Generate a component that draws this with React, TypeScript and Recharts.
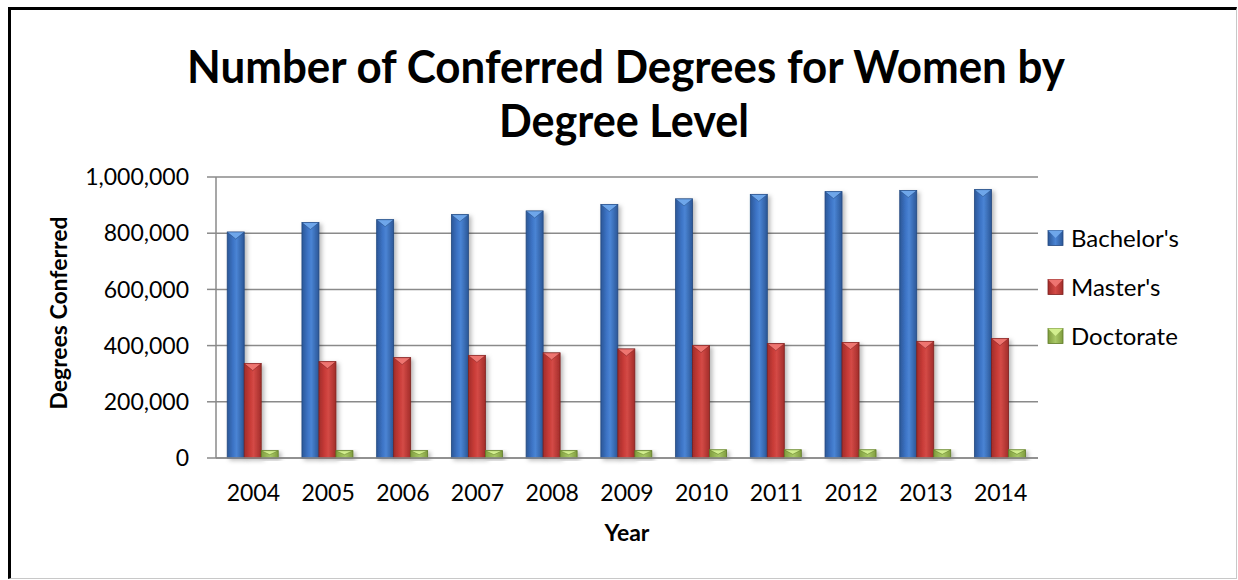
import React from "react";
import { BarChart, Bar, XAxis, YAxis, CartesianGrid } from "recharts";

const years = ["2004", "2005", "2006", "2007", "2008", "2009", "2010", "2011", "2012", "2013", "2014"];
const bachelors = [804000, 838000, 848000, 866000, 879000, 902000, 922000, 938000, 948000, 952000, 955000];
const masters = [336000, 343000, 357000, 365000, 374000, 388000, 400000, 407000, 411000, 415000, 425000];
const doctorate = [26000, 26000, 26000, 26000, 26000, 26000, 29000, 29000, 29000, 29000, 29000];
const yTicks = [0, 200000, 400000, 600000, 800000, 1000000];
const seriesNames = ["Bachelor's", "Master's", "Doctorate"];

const data = years.map((y, i) => ({
  year: y,
  bachelors: bachelors[i],
  masters: masters[i],
  doctorate: doctorate[i],
}));

const W = 1238;
const H = 580;
const PL = 216;
const PR = 1038;
const PT = 177;
const PB = 458;
const YW = 110;
const XH = 40;
const FONT = "Lato, 'Open Sans', sans-serif";

const palettes = [
  { id: "b", edge: "#23487f", dark: "#2b5797", mid: "#3d74c6", light: "#4a84d4", top: "#6ea6ea" },
  { id: "r", edge: "#7d201e", dark: "#a22d2a", mid: "#c93c38", light: "#d44a46", top: "#ee7470" },
  { id: "g", edge: "#5e7a26", dark: "#7f9c3e", mid: "#9bbb59", light: "#a9c866", top: "#d2ee8e" },
];

const makeShape = (c: any) => (p: any) => {
  const { x, y, width: w, height: h } = p;
  if (!h || h <= 0) return <g />;
  const bev = Math.min(7, h * 0.55);
  return (
    <g filter="url(#barShadow)">
      <rect x={x} y={y} width={w} height={h} fill={`url(#grad-${c.id})`} stroke={c.edge} strokeWidth={0.8} />
      <polygon
        points={`${x},${y} ${x + w},${y} ${x + w / 2},${y + bev}`}
        fill={c.top}
        stroke={c.edge}
        strokeWidth={0.5}
      />
    </g>
  );
};

const fmt = (v: number) => v.toLocaleString("en-US");

export default function App() {
  const keys = ["bachelors", "masters", "doctorate"];
  return (
    <div style={{ position: "fixed", left: 0, top: 0, width: W, height: H, background: "#fff", overflow: "hidden" }}>
      <div
        style={{
          position: "absolute",
          left: 8,
          top: 7,
          width: 1229,
          height: 572,
          boxSizing: "border-box",
          borderLeft: "3px solid #000",
          borderTop: "3px solid #000",
          borderRight: "1px solid #c8c8c8",
          borderBottom: "1px solid #c8c8c8",
        }}
      />
      <div style={{ position: "absolute", left: 0, top: 0 }}>
        <BarChart
          width={W}
          height={H}
          data={data}
          margin={{ top: PT, right: W - PR, bottom: H - PB - XH, left: PL - YW }}
          barCategoryGap="15%"
          barGap={0}
        >
          <defs>
            {palettes.map((c) => (
              <linearGradient key={c.id} id={`grad-${c.id}`} x1="0" y1="0" x2="1" y2="0">
                <stop offset="0%" stopColor={c.dark} />
                <stop offset="35%" stopColor={c.mid} />
                <stop offset="55%" stopColor={c.light} />
                <stop offset="100%" stopColor={c.dark} />
              </linearGradient>
            ))}
            <filter id="barShadow" x="-40%" y="-10%" width="200%" height="140%">
              <feDropShadow dx="2.5" dy="2" stdDeviation="2" floodColor="#000" floodOpacity="0.28" />
            </filter>
          </defs>
          <CartesianGrid vertical={false} stroke="#8a8a8a" strokeWidth={1.5} />
          <XAxis
            dataKey="year"
            height={XH}
            axisLine={{ stroke: "#8a8a8a", strokeWidth: 1.5 }}
            tickLine={false}
            tickSize={0}
            tickMargin={27}
            tick={{ fill: "#000", fontSize: 23, fontFamily: FONT }}
            interval={0}
          />
          <YAxis
            width={YW}
            domain={[0, 1000000]}
            ticks={yTicks}
            tickFormatter={fmt}
            axisLine={{ stroke: "#8a8a8a", strokeWidth: 1.5 }}
            tickLine={{ stroke: "#8a8a8a", strokeWidth: 1.5 }}
            tickSize={9}
            tickMargin={18}
            tick={{ fill: "#000", fontSize: 23, fontFamily: FONT }}
            interval={0}
          />
          {keys.map((k, i) => (
            <Bar
              key={k}
              dataKey={k}
              name={seriesNames[i]}
              fill={palettes[i].mid}
              isAnimationActive={false}
              shape={makeShape(palettes[i])}
            />
          ))}
        </BarChart>
      </div>
      <svg
        width={W}
        height={H}
        style={{ position: "absolute", left: 0, top: 0, pointerEvents: "none" }}
      >
        <defs>
          {palettes.map((c) => (
            <linearGradient key={c.id} id={`lg-${c.id}`} x1="0" y1="0" x2="1" y2="0">
              <stop offset="0%" stopColor={c.dark} />
              <stop offset="50%" stopColor={c.light} />
              <stop offset="100%" stopColor={c.dark} />
            </linearGradient>
          ))}
        </defs>
        <text
          x={626}
          y={83}
          textAnchor="middle"
          fontFamily={FONT}
          fontWeight="bold"
          fontSize={45}
          fill="#000"
          textLength={878}
          lengthAdjust="spacingAndGlyphs"
        >
          Number of Conferred Degrees for Women by
        </text>
        <text
          x={624}
          y={137}
          textAnchor="middle"
          fontFamily={FONT}
          fontWeight="bold"
          fontSize={45}
          fill="#000"
          textLength={250}
          lengthAdjust="spacingAndGlyphs"
        >
          Degree Level
        </text>
        <text
          x={627}
          y={541}
          textAnchor="middle"
          fontFamily={FONT}
          fontWeight="bold"
          fontSize={23}
          fill="#000"
        >
          Year
        </text>
        <text
          transform="translate(67,313) rotate(-90)"
          textAnchor="middle"
          fontFamily={FONT}
          fontWeight="bold"
          fontSize={23}
          fill="#000"
          textLength={193}
          lengthAdjust="spacingAndGlyphs"
        >
          Degrees Conferred
        </text>
        {seriesNames.map((n, i) => {
          const cy = 238 + i * 49;
          const c = palettes[i];
          return (
            <g key={n}>
              <rect x={1048} y={cy - 7.5} width={15} height={15} fill={`url(#lg-${c.id})`} stroke={c.edge} strokeWidth={0.8} />
              <polygon points={`${1048},${cy - 7.5} ${1063},${cy - 7.5} ${1055.5},${cy}`} fill={c.top} />
              <text x={1071} y={cy} dy="0.36em" fontFamily={FONT} fontSize={24} fill="#000">
                {n}
              </text>
            </g>
          );
        })}
      </svg>
    </div>
  );
}
